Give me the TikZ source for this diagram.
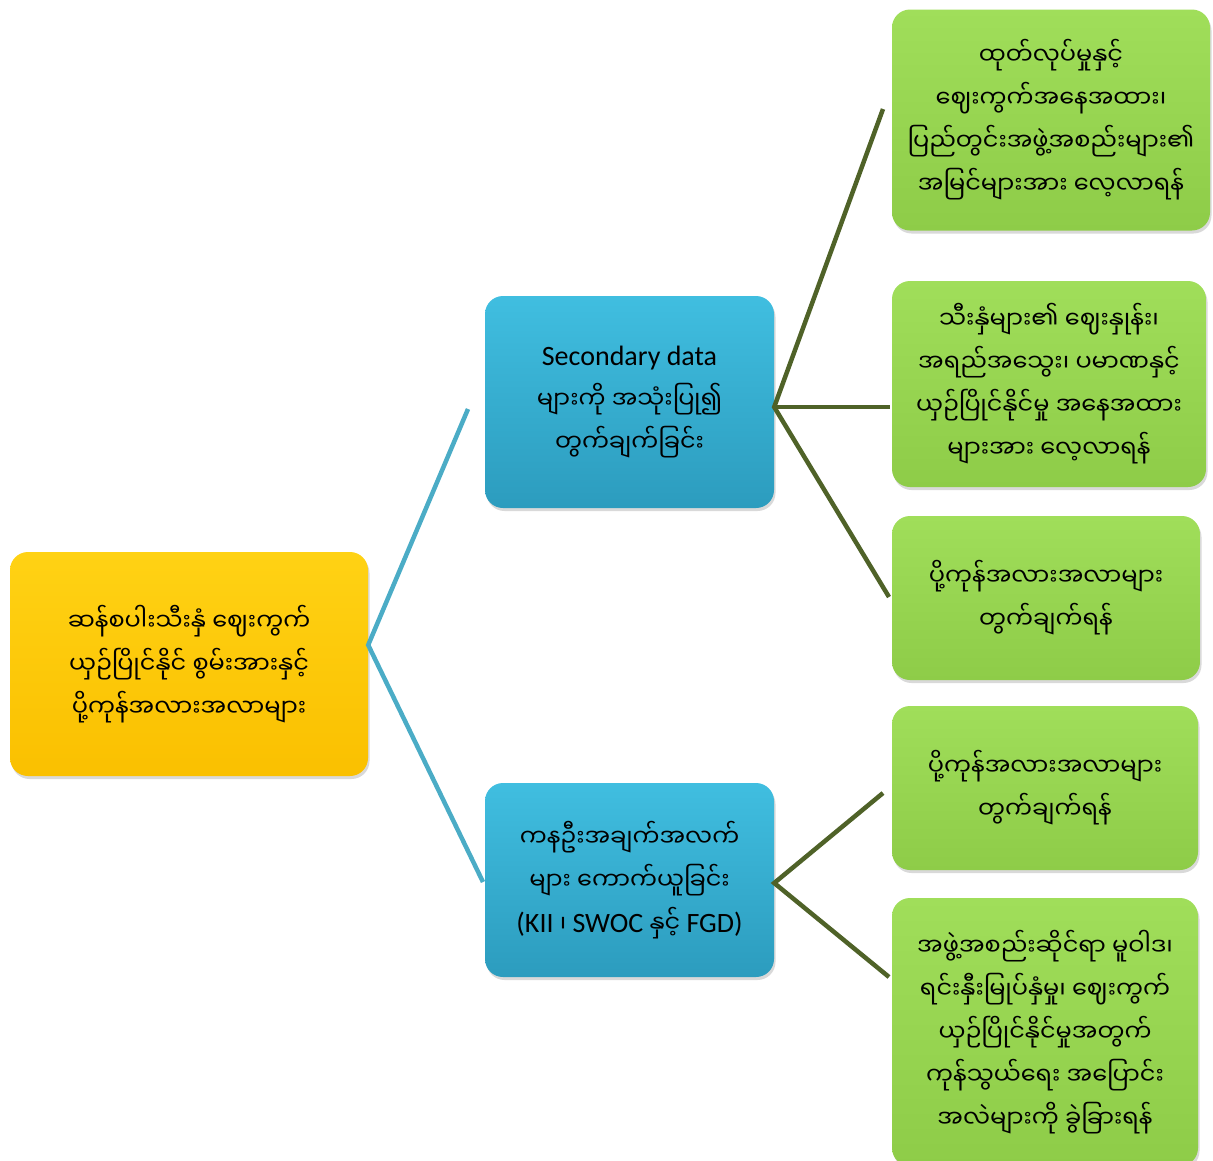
\documentclass[tikz,border=0pt]{standalone}
\usepackage{fontspec}
\setmainfont{Carlito}
\newfontfamily\mmfont[Script=Myanmar]{Noto Sans Myanmar UI}
\usetikzlibrary{shadows}
\newcommand{\latn}[1]{{\rmfamily\fontsize{28}{43}\selectfont #1}}
\definecolor{rootTop}{RGB}{255,210,20}
\definecolor{rootBot}{RGB}{250,192,0}
\definecolor{blueTop}{RGB}{64,190,224}
\definecolor{blueBot}{RGB}{44,156,190}
\definecolor{greenTop}{RGB}{160,222,90}
\definecolor{greenBot}{RGB}{142,204,72}
\definecolor{blueLine}{RGB}{75,172,198}
\definecolor{greenLine}{RGB}{79,98,40}
\tikzset{
	box/.style= {
		rounded corners=18pt, align=center, inner sep=0pt,
		font=\mmfont\fontsize{24}{43}\selectfont,
		drop shadow={opacity=0.3,shadow xshift=1.5pt,shadow yshift=-3pt}
	},
	rootbox/.style= {box, top color=rootTop, bottom color=rootBot},
	bluebox/.style= {box, top color=blueTop, bottom color=blueBot,
		minimum width=289pt},
	greenbox/.style= {box, top color=greenTop, bottom color=greenBot},
	blueconn/.style= {draw=blueLine, line width=4.5pt},
	greenconn/.style= {draw=greenLine, line width=4.5pt}
}
\begin{document}
\begin{tikzpicture}[x=1pt,y=-1pt]
\useasboundingbox (0,0) rectangle (1213,1160);

% main boxes
\node[rootbox, minimum width=358pt, minimum height=224pt] (root) at (189,664)
	{ဆန်စပါးသီးနှံ ဈေးကွက်\\ယှဉ်ပြိုင်နိုင် စွမ်းအားနှင့်\\ပို့ကုန်အလားအလာများ};
\node[bluebox, minimum height=212pt] (secData) at (629.5,402)
	{\latn{Secondary data}\\များကို အသုံးပြု၍\\တွက်ချက်ခြင်း};
\node[bluebox, minimum height=194pt] (priData) at (629.5,880)
	{ကနဦးအချက်အလက်\\များ ကောက်ယူခြင်း\\\latn{(KII} ၊ \latn{SWOC} နှင့် \latn{FGD)}};

% right column
\node[greenbox, minimum width=318pt, minimum height=221pt] (gProd) at (1051,120)
	{ထုတ်လုပ်မှုနှင့်\\ဈေးကွက်အနေအထား၊\\ပြည်တွင်းအဖွဲ့အစည်းများ၏\\အမြင်များအား လေ့လာရန်};
\node[greenbox, minimum width=314pt, minimum height=206pt] (gPrice) at (1049,384)
	{သီးနှံများ၏ ဈေးနှုန်း၊\\အရည်အသွေး၊ ပမာဏနှင့်\\ယှဉ်ပြိုင်နိုင်မှု အနေအထား\\များအား လေ့လာရန်};
\node[greenbox, minimum width=308pt, minimum height=164pt] (gExport) at (1046,598)
	{ပို့ကုန်အလားအလာများ\\တွက်ချက်ရန်};
\node[greenbox, minimum width=306pt, minimum height=164pt] (gExportB) at (1045,788)
	{ပို့ကုန်အလားအလာများ\\တွက်ချက်ရန်};
\node[greenbox, minimum width=306pt, minimum height=268pt] (gPolicy) at (1045,1032)
	{အဖွဲ့အစည်းဆိုင်ရာ မူဝါဒ၊\\ရင်းနှီးမြုပ်နှံမှု၊ ဈေးကွက်\\ယှဉ်ပြိုင်နိုင်မှုအတွက်\\ကုန်သွယ်ရေး အပြောင်း\\အလဲများကို ခွဲခြားရန်};

% joints and free ends
\coordinate (rootJoin) at ([yshift=19pt]root.east);
\coordinate (secJoin) at ([yshift=-5pt]secData.east);
\coordinate (priJoin) at ([yshift=-3pt]priData.east);
\coordinate (secIn) at (468,409);
\coordinate (priIn) at (483,882);
\coordinate (prodIn) at (883,109);
\coordinate (priceIn) at (890,407);
\coordinate (exportIn) at (889,597);
\coordinate (exportBIn) at (883,793);
\coordinate (policyIn) at (889,977);

% connectors
\draw[blueconn] (secIn) -- (rootJoin) -- (priIn);
\draw[greenconn] (prodIn) -- (secJoin) -- (exportIn);
\draw[greenconn] (secJoin) -- (priceIn);
\draw[greenconn] (exportBIn) -- (priJoin) -- (policyIn);
\end{tikzpicture}
\end{document}
